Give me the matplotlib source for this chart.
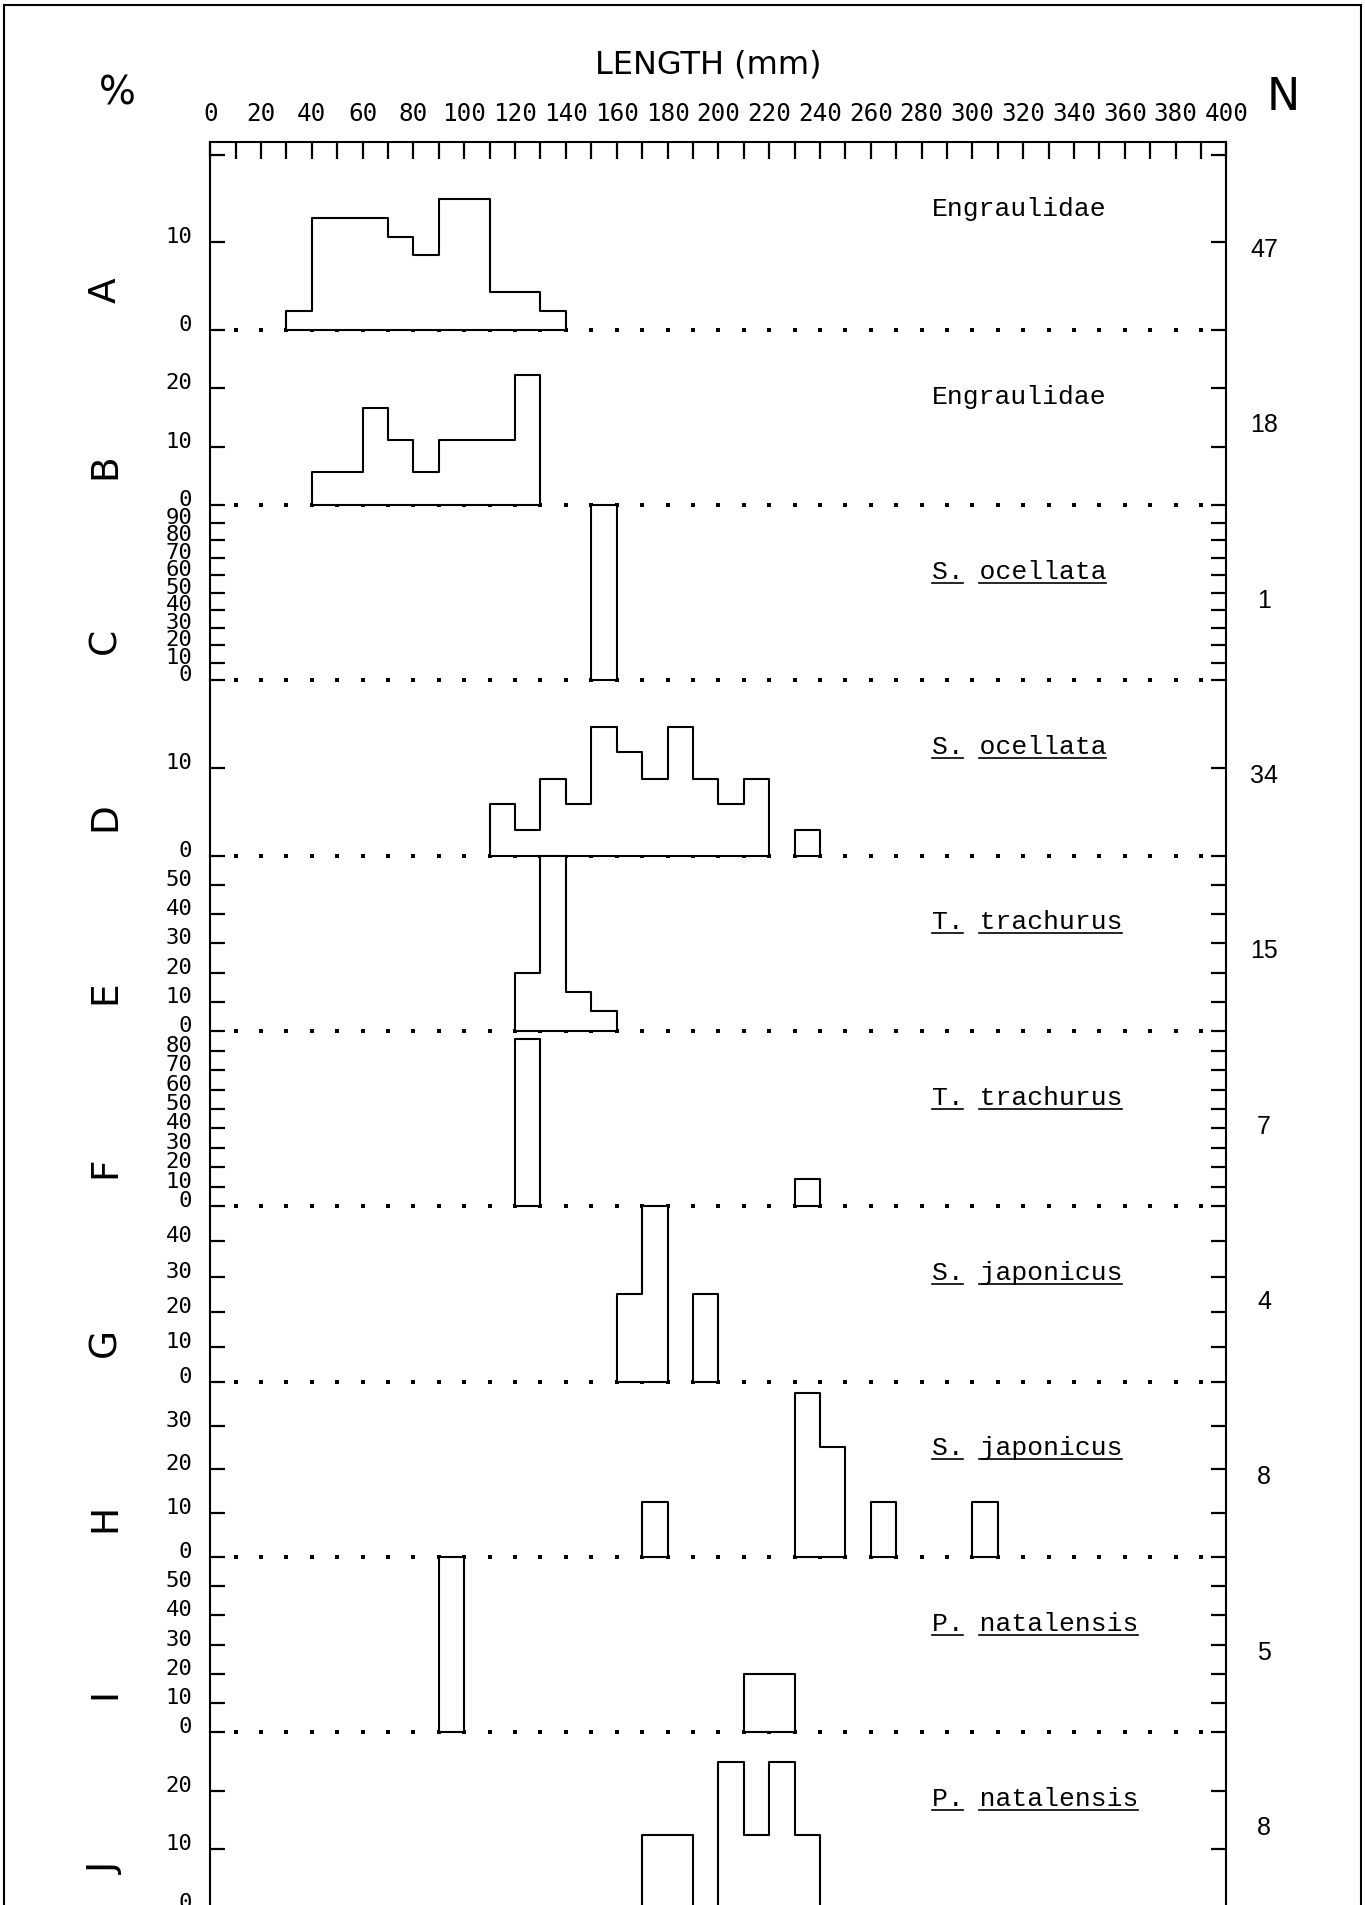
import numpy as np
import matplotlib.pyplot as plt
from matplotlib.lines import Line2D
from matplotlib.patches import Rectangle
from matplotlib.transforms import blended_transform_factory

plt.rcParams['font.family'] = ['DejaVu Sans Mono', 'DejaVu Sans']

# one panel per sample
panel_letters = ['A', 'B', 'C', 'D', 'E', 'F', 'G', 'H', 'I', 'J']
species = ['Engraulidae', 'Engraulidae', 'S. ocellata', 'S. ocellata',
           'T. trachurus', 'T. trachurus', 'S. japonicus', 'S. japonicus',
           'P. natalensis', 'P. natalensis']
n_fish = [47, 18, 1, 34, 15, 7, 4, 8, 5, 8]
pct_max = [21.5, 30, 100, 20, 60, 90, 50, 40, 60, 30]

# left edge of each 10 mm length class (mm) and its share (%)
len_a = [30, 40, 50, 60, 70, 80, 90, 100, 110, 120, 130]
pct_a = [2.1, 12.8, 12.8, 12.8, 10.6, 8.5, 14.9, 14.9, 4.3, 4.3, 2.1]
len_b = [40, 50, 60, 70, 80, 90, 100, 110, 120]
pct_b = [5.6, 5.6, 16.7, 11.1, 5.6, 11.1, 11.1, 11.1, 22.2]
len_c = [150]
pct_c = [100.0]
len_d = [110, 120, 130, 140, 150, 160, 170, 180, 190, 200, 210, 230]
pct_d = [5.9, 2.9, 8.8, 5.9, 14.7, 11.8, 8.8, 14.7, 8.8, 5.9, 8.8, 2.9]
len_e = [120, 130, 140, 150]
pct_e = [20.0, 60.0, 13.3, 6.7]
len_f = [120, 230]
pct_f = [85.7, 14.3]
len_g = [160, 170, 190]
pct_g = [25.0, 50.0, 25.0]
len_h = [170, 230, 240, 260, 300]
pct_h = [12.5, 37.5, 25.0, 12.5, 12.5]
len_i = [90, 210, 220]
pct_i = [60.0, 20.0, 20.0]
len_j = [170, 180, 200, 210, 220, 230]
pct_j = [12.5, 12.5, 25.0, 12.5, 25.0, 12.5]

lengths = [len_a, len_b, len_c, len_d, len_e, len_f, len_g, len_h, len_i, len_j]
percents = [pct_a, pct_b, pct_c, pct_d, pct_e, pct_f, pct_g, pct_h, pct_i, pct_j]

heights = [188] + [175.3] * 9   # panel heights in pixels, the top one is a bit taller

fig = plt.figure(figsize=(13.65, 19.06), dpi=100)
axes = fig.subplots(10, 1, gridspec_kw=dict(left=0.154, right=0.8985, top=0.9251,
                                             bottom=-0.0014, hspace=0,
                                             height_ratios=heights))

species_texts = []
for i, ax in enumerate(axes):
    k = 175.3 / heights[i]
    ax.patch.set_visible(False)
    ax.set_xlim(0, 400)
    ax.set_ylim(0, pct_max[i])
    yt = np.arange(0, pct_max[i], 10)
    ax.set_yticks(yt, [f'{v:g}' if v + 10 <= pct_max[i] else '' for v in yt])
    ax.tick_params(axis='y', direction='in', left=True, right=True, length=10.5,
                   width=1.6, pad=13, labelsize=16)
    for lbl in ax.get_yticklabels():
        lbl.set_verticalalignment('baseline')
    for side in ['left', 'right', 'top']:
        ax.spines[side].set_linewidth(1.5)
    ax.spines['bottom'].set_visible(False)
    ax.spines['top'].set_visible(i == 0)

    if i == 0:
        ax.xaxis.tick_top()
        ax.set_xticks(np.arange(0, 401, 20))
        ax.set_xticks(np.arange(0, 401, 10), minor=True)
        ax.tick_params(axis='x', which='both', direction='in', top=True, bottom=False,
                       length=12, width=1.6, labeltop=True, labelbottom=False,
                       pad=12, labelsize=17.5)
    else:
        ax.tick_params(axis='x', which='both', top=False, bottom=False,
                       labelbottom=False)

    # histogram outline, one polygon per run of adjacent classes
    x = np.asarray(lengths[i])
    h = np.asarray(percents[i])
    cut = np.where(np.diff(x) > 10)[0] + 1
    for xs, hs in zip(np.split(x, cut), np.split(h, cut)):
        edges = np.append(xs, xs[-1] + 10)
        ax.fill_between(edges, np.append(hs, hs[-1]), step='post', facecolor='white',
                        edgecolor='black', linewidth=1.5, zorder=3, clip_on=False)

    # dotted zero line
    ax.plot(np.arange(10, 400, 10), np.zeros(39), linestyle='none', marker='s',
            ms=2.3, mew=0, color='black', zorder=2, clip_on=False)

    ax.text(-0.103, 0.23 * k, panel_letters[i], transform=ax.transAxes, rotation=90,
            ha='center', va='center', fontsize=27, family='DejaVu Sans')
    ax.text(1.037, 0.46 * k, str(n_fish[i]), transform=ax.transAxes, ha='center',
            va='center', fontsize=18, family='Liberation Sans')
    trans = blended_transform_factory(ax.transData, ax.transAxes)
    t = ax.text(284, 1 - 0.375 * k, species[i], transform=trans, ha='left',
                va='center', fontsize=19, family='Liberation Mono')
    species_texts.append(t)

fig.text(0.519, 0.966, 'LENGTH (mm)', ha='center', va='center', fontsize=23,
         family='DejaVu Sans')
fig.text(0.0857, 0.9512, '%', ha='center', va='center', fontsize=28,
         family='DejaVu Sans')
fig.text(0.940, 0.9488, 'N', ha='center', va='center', fontsize=32,
         family='DejaVu Sans')

# outer frame
fig.add_artist(Rectangle((0.003, -0.05), 0.994, 1.047, transform=fig.transFigure,
                         fill=False, linewidth=1.5, edgecolor='black'))

# underline the species names word by word
fig.canvas.draw()
renderer = fig.canvas.get_renderer()
inv = fig.transFigure.inverted()
for t in species_texts:
    label = t.get_text()
    if ' ' not in label:
        continue
    bb = t.get_window_extent(renderer)
    cw = bb.width / len(label)
    start = 0
    for word in label.split(' '):
        x0 = bb.x0 + start * cw
        x1 = x0 + len(word) * cw
        (fx0, fy), (fx1, _) = inv.transform([(x0, bb.y0), (x1, bb.y0)])
        fig.add_artist(Line2D([fx0, fx1], [fy, fy], color='black', linewidth=1.2))
        start += len(word) + 1

fig.savefig('out.png', dpi=100)
